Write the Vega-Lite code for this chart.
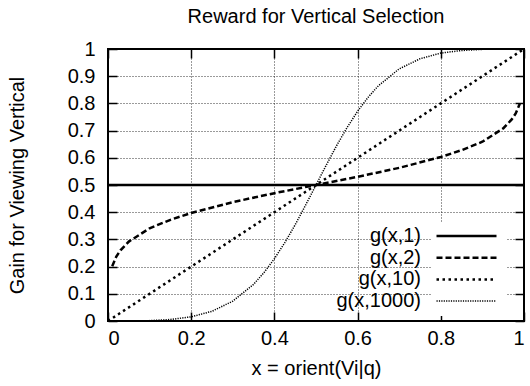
{
  "$schema": "https://vega.github.io/schema/vega-lite/v6.json",
  "width": 416,
  "height": 272,
  "autosize": "none",
  "padding": {"left": 108, "top": 49, "right": 6, "bottom": 65},
  "background": "white",
  "config": {
    "font": "Liberation Sans",
    "view": {"stroke": "black", "strokeWidth": 2},
    "axis": {
      "domain": false,
      "labelFont": "Liberation Sans",
      "labelFontSize": 20,
      "labelColor": "black",
      "titleFont": "Liberation Sans",
      "titleFontSize": 20,
      "titleFontWeight": "normal",
      "titleColor": "black",
      "tickColor": "black",
      "tickWidth": 1.5,
      "tickSize": -9,
      "gridColor": "black",
      "gridDash": [1, 2],
      "gridWidth": 0.8,
      "gridOpacity": 1
    },
    "legend": {
      "title": null,
      "orient": "none",
      "legendX": 323,
      "legendY": 173,
      "symbolType": "stroke",
      "symbolSize": 3600,
      "symbolStrokeColor": "black",
      "labelAlign": "right",
      "labelOffset": -77,
      "labelFont": "Liberation Sans",
      "labelFontSize": 20,
      "labelColor": "black",
      "labelLimit": 0,
      "fillColor": "white",
      "padding": 4,
      "rowPadding": 1.7
    }
  },
  "title": {
    "text": "Reward for Vertical Selection",
    "font": "Liberation Sans",
    "fontSize": 20,
    "fontWeight": "normal",
    "color": "black",
    "anchor": "middle",
    "offset": 12
  },
  "datasets": {
    "curves": [
      {"series": "g(x,1)", "x": 0, "y": 0.5},
      {"series": "g(x,1)", "x": 1, "y": 0.5},
      {"series": "g(x,2)", "x": 0.0101, "y": 0.201},
      {"series": "g(x,2)", "x": 0.02, "y": 0.237},
      {"series": "g(x,2)", "x": 0.03, "y": 0.26},
      {"series": "g(x,2)", "x": 0.05, "y": 0.292},
      {"series": "g(x,2)", "x": 0.1, "y": 0.341},
      {"series": "g(x,2)", "x": 0.15, "y": 0.372},
      {"series": "g(x,2)", "x": 0.2, "y": 0.397},
      {"series": "g(x,2)", "x": 0.3, "y": 0.437},
      {"series": "g(x,2)", "x": 0.4, "y": 0.47},
      {"series": "g(x,2)", "x": 0.5, "y": 0.5},
      {"series": "g(x,2)", "x": 0.6, "y": 0.53},
      {"series": "g(x,2)", "x": 0.7, "y": 0.563},
      {"series": "g(x,2)", "x": 0.8, "y": 0.603},
      {"series": "g(x,2)", "x": 0.85, "y": 0.628},
      {"series": "g(x,2)", "x": 0.9, "y": 0.659},
      {"series": "g(x,2)", "x": 0.95, "y": 0.708},
      {"series": "g(x,2)", "x": 0.97, "y": 0.74},
      {"series": "g(x,2)", "x": 0.98, "y": 0.763},
      {"series": "g(x,2)", "x": 0.9899, "y": 0.799},
      {"series": "g(x,10)", "x": 0, "y": 0},
      {"series": "g(x,10)", "x": 1, "y": 1},
      {"series": "g(x,1000)", "x": 0, "y": 0},
      {"series": "g(x,1000)", "x": 0.05, "y": 0.0001},
      {"series": "g(x,1000)", "x": 0.1, "y": 0.0014},
      {"series": "g(x,1000)", "x": 0.15, "y": 0.0055},
      {"series": "g(x,1000)", "x": 0.2, "y": 0.0154},
      {"series": "g(x,1000)", "x": 0.25, "y": 0.0357},
      {"series": "g(x,1000)", "x": 0.3, "y": 0.073},
      {"series": "g(x,1000)", "x": 0.35, "y": 0.135},
      {"series": "g(x,1000)", "x": 0.375, "y": 0.178},
      {"series": "g(x,1000)", "x": 0.4, "y": 0.229},
      {"series": "g(x,1000)", "x": 0.425, "y": 0.288},
      {"series": "g(x,1000)", "x": 0.45, "y": 0.354},
      {"series": "g(x,1000)", "x": 0.475, "y": 0.426},
      {"series": "g(x,1000)", "x": 0.5, "y": 0.5},
      {"series": "g(x,1000)", "x": 0.525, "y": 0.574},
      {"series": "g(x,1000)", "x": 0.55, "y": 0.646},
      {"series": "g(x,1000)", "x": 0.575, "y": 0.712},
      {"series": "g(x,1000)", "x": 0.6, "y": 0.771},
      {"series": "g(x,1000)", "x": 0.625, "y": 0.822},
      {"series": "g(x,1000)", "x": 0.65, "y": 0.865},
      {"series": "g(x,1000)", "x": 0.7, "y": 0.927},
      {"series": "g(x,1000)", "x": 0.75, "y": 0.964},
      {"series": "g(x,1000)", "x": 0.8, "y": 0.985},
      {"series": "g(x,1000)", "x": 0.85, "y": 0.9945},
      {"series": "g(x,1000)", "x": 0.9, "y": 0.9986},
      {"series": "g(x,1000)", "x": 0.95, "y": 0.9999},
      {"series": "g(x,1000)", "x": 1, "y": 1}
    ]
  },
  "layer": [
    {
      "data": {"name": "curves"},
      "mark": {"type": "line", "strokeCap": "butt", "clip": true, "color": "black"},
      "encoding": {
        "x": {
          "field": "x", "type": "quantitative",
          "scale": {"domain": [0, 1], "nice": false, "zero": false},
          "axis": {"values": [0, 0.2, 0.4, 0.6, 0.8, 1], "format": "~g", "title": "x = orient(Vi|q)", "labelPadding": 16, "titlePadding": 10}
        },
        "y": {
          "field": "y", "type": "quantitative",
          "scale": {"domain": [0, 1], "nice": false, "zero": false},
          "axis": {"values": [0, 0.1, 0.2, 0.3, 0.4, 0.5, 0.6, 0.7, 0.8, 0.9, 1], "format": "~g", "title": "Gain for Viewing Vertical", "labelPadding": 22, "titlePadding": 40}
        },
        "strokeDash": {
          "field": "series", "type": "nominal",
          "scale": {"domain": ["g(x,1)", "g(x,2)", "g(x,10)", "g(x,1000)"], "range": [[1, 0], [6, 3], [2.5, 3.5], [1.2, 1.2]]},
          "legend": {
            "encode": {
              "symbols": {"update": {"y": {"value": 10}}},
              "labels": {"update": {"y": {"value": 10}}}
            }
          }
        },
        "strokeWidth": {
          "field": "series", "type": "nominal",
          "scale": {"type": "ordinal", "domain": ["g(x,1)", "g(x,2)", "g(x,10)", "g(x,1000)"], "range": [2.5, 2.5, 2.5, 1.5]},
          "legend": {
            "encode": {
              "symbols": {"update": {"y": {"value": 10}}},
              "labels": {"update": {"y": {"value": 10}}}
            }
          }
        }
      }
    },
    {
      "data": {"name": "curves"},
      "mark": {"type": "point", "opacity": 0},
      "encoding": {
        "x": {
          "field": "x", "type": "quantitative",
          "scale": {"domain": [0, 1], "nice": false, "zero": false},
          "axis": {"orient": "top", "values": [0, 0.2, 0.4, 0.6, 0.8, 1], "labels": false, "title": null, "grid": false}
        },
        "y": {
          "field": "y", "type": "quantitative",
          "scale": {"domain": [0, 1], "nice": false, "zero": false},
          "axis": {"orient": "right", "values": [0, 0.1, 0.2, 0.3, 0.4, 0.5, 0.6, 0.7, 0.8, 0.9, 1], "labels": false, "title": null, "grid": false}
        }
      }
    }
  ],
  "resolve": {"axis": {"x": "independent", "y": "independent"}}
}
